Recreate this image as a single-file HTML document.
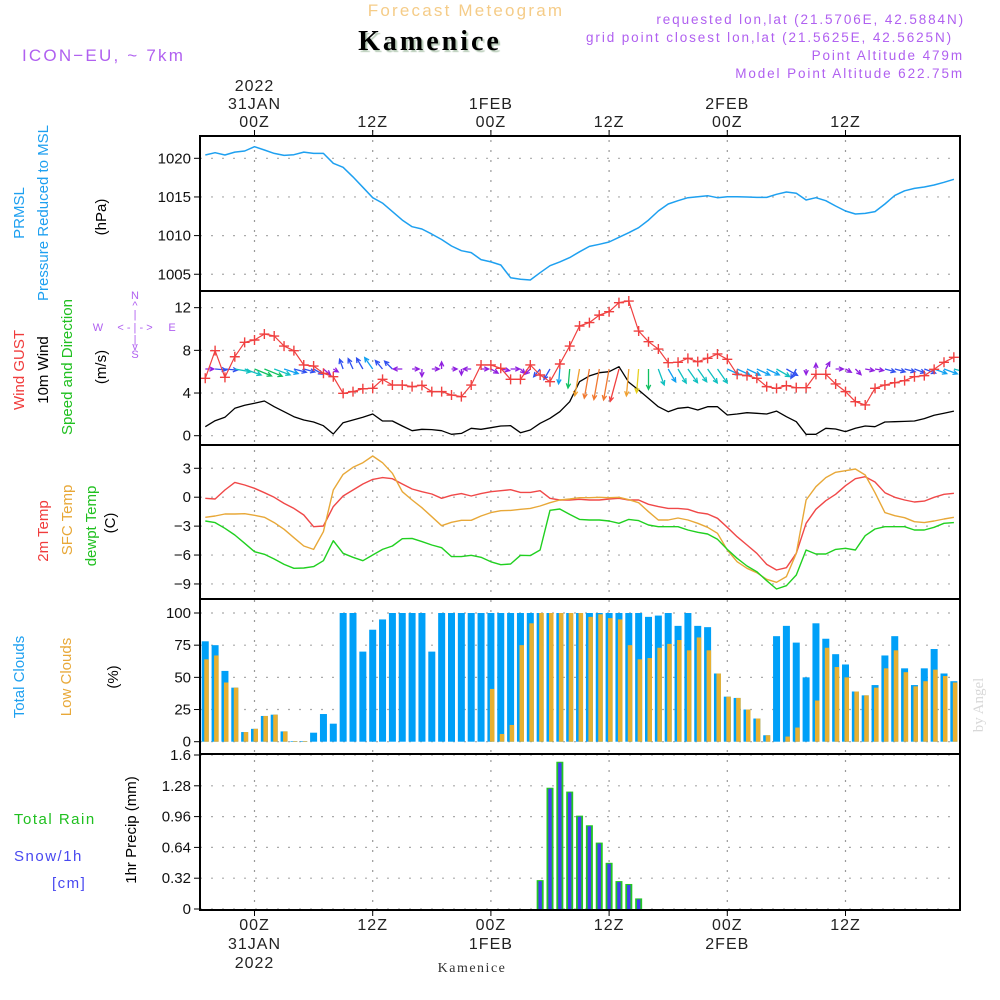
<!DOCTYPE html>
<html><head><meta charset="utf-8"><style>
html,body{margin:0;padding:0;background:#fff;}
svg{display:block;font-family:"Liberation Sans",sans-serif;}
</style></head><body>
<svg id="chart" width="1000" height="1000" viewBox="0 0 1000 1000" xmlns="http://www.w3.org/2000/svg">
<defs>
<clipPath id="plotclip"><rect x="200" y="130" width="760" height="785"/></clipPath>
</defs>
<text x="466" y="16" text-anchor="middle" font-size="17" fill="#f5cc88" letter-spacing="2.2">Forecast Meteogram</text>
<text x="430" y="50" text-anchor="middle" font-family="Liberation Serif,serif" font-weight="bold" font-size="28" fill="#000" letter-spacing="3" style="text-shadow:2px 2px 1px #b9cdb9">Kamenice</text>
<text x="22" y="61" font-size="17" fill="#b060f0" letter-spacing="2.2">ICON−EU, ~ 7km</text>
<g font-size="13.5" fill="#b060f0" letter-spacing="1.9" text-anchor="end">
<text x="965" y="24">requested lon,lat (21.5706E, 42.5884N)</text>
<text x="953" y="42">grid point closest lon,lat (21.5625E, 42.5625N)</text>
<text x="964" y="60">Point Altitude 479m</text>
<text x="964" y="78">Model Point Altitude 622.75m</text>
</g>
<g font-size="15">
<text transform="translate(24,213) rotate(-90)" text-anchor="middle" fill="#1ea0f0">PRMSL</text>
<text transform="translate(48,213) rotate(-90)" text-anchor="middle" fill="#1ea0f0">Pressure Reduced to MSL</text>
<text transform="translate(106,217) rotate(-90)" text-anchor="middle" fill="#000">(hPa)</text>
</g>
<g font-size="15">
<text transform="translate(24,370) rotate(-90)" text-anchor="middle" fill="#f03c3c">Wind GUST</text>
<text transform="translate(48,370) rotate(-90)" text-anchor="middle" fill="#000">10m Wind</text>
<text transform="translate(72,367) rotate(-90)" text-anchor="middle" fill="#20c020">Speed and Direction</text>
<text transform="translate(106,367) rotate(-90)" text-anchor="middle" fill="#000">(m/s)</text>
</g>
<g font-size="11" fill="#b060f0" text-anchor="middle">
<text x="135" y="299">N</text>
<text x="135" y="309">^</text>
<text x="135" y="318">|</text>
<text x="98" y="331">W</text>
<text x="135" y="331">&lt; - | - &gt;</text>
<text x="172" y="331">E</text>
<text x="135" y="343">|</text>
<text x="135" y="350">v</text>
<text x="135" y="358">S</text>
</g>
<g font-size="15">
<text transform="translate(48,531) rotate(-90)" text-anchor="middle" fill="#f03c3c">2m Temp</text>
<text transform="translate(72,520) rotate(-90)" text-anchor="middle" fill="#e8a838">SFC Temp</text>
<text transform="translate(96,526) rotate(-90)" text-anchor="middle" fill="#20c020">dewpt Temp</text>
<text transform="translate(115,523) rotate(-90)" text-anchor="middle" fill="#000">(C)</text>
</g>
<g font-size="15">
<text transform="translate(24,677) rotate(-90)" text-anchor="middle" fill="#1ea0f0">Total Clouds</text>
<text transform="translate(71,677) rotate(-90)" text-anchor="middle" fill="#e8a838">Low Clouds</text>
<text transform="translate(118,677) rotate(-90)" text-anchor="middle" fill="#000">(%)</text>
</g>
<g font-size="15" letter-spacing="1.5">
<text x="14" y="824" fill="#20c020">Total  Rain</text>
<text x="14" y="861" fill="#4848f0">Snow/1h</text>
<text x="52" y="888" fill="#4848f0">[cm]</text>
<text transform="translate(136,830) rotate(-90)" text-anchor="middle" fill="#000" letter-spacing="0">1hr Precip (mm)</text>
</g>
<text transform="translate(983,705) rotate(-90)" text-anchor="middle" font-family="Liberation Serif,serif" font-size="15" fill="#d8d8d8">by Angel</text>
<text x="472" y="972" text-anchor="middle" font-family="Liberation Serif,serif" font-size="14" fill="#333" letter-spacing="1.5">Kamenice</text>
<g id="grid"></g>
<g id="marks" clip-path="url(#plotclip)"></g>
<g id="frames"></g>
<g id="axes"></g>
</svg>
<script>
const hourStart = -5;
const pressure = [1020.43,1020.72,1020.43,1020.8,1020.94,1021.5,1021.07,1020.64,1020.38,1020.47,1020.8,1020.64,1020.64,1019.35,1018.84,1017.6,1016.25,1014.9,1014.2,1013.1,1012.0,1011.15,1010.85,1010.2,1009.5,1008.65,1008.05,1007.8,1006.9,1006.6,1006.2,1004.55,1004.35,1004.26,1005.2,1006.1,1006.6,1007.15,1007.9,1008.6,1008.87,1009.17,1009.78,1010.38,1011.02,1012.0,1013.18,1014.09,1014.52,1014.9,1015.03,1015.16,1014.9,1015.03,1015.03,1014.99,1014.94,1014.94,1015.34,1015.64,1015.47,1014.6,1014.9,1014.52,1013.83,1013.18,1012.79,1012.87,1013.1,1014.09,1015.2,1015.8,1016.1,1016.29,1016.55,1016.9,1017.28];
const windSpeed = [0.84,1.41,1.72,2.57,2.85,3.04,3.25,2.72,2.25,1.78,1.47,1.28,0.94,0.16,1.22,1.47,1.72,2.03,1.38,1.38,0.91,0.47,0.6,0.57,0.47,0.13,0.22,0.69,0.6,0.75,0.91,0.94,0.28,0.53,1.16,1.63,2.25,3.19,5.06,5.6,5.9,6.0,6.47,5.0,4.28,3.5,2.72,2.25,2.57,2.66,2.41,2.72,2.72,1.94,2.03,2.16,2.1,2.03,2.31,1.78,1.31,0.13,0.13,0.69,0.63,0.38,0.69,0.91,0.84,1.28,1.31,1.34,1.38,1.6,1.91,2.1,2.31];
const windGust = [5.38,7.97,5.47,7.4,8.75,8.97,9.53,9.34,8.4,7.97,6.63,6.53,5.85,5.53,3.97,4.13,4.4,4.44,5.28,4.75,4.75,4.6,4.72,4.13,4.13,3.81,3.66,4.75,6.63,6.63,6.32,5.28,5.28,6.63,5.69,5.06,6.72,8.4,10.28,10.6,11.3,11.62,12.47,12.62,9.81,8.81,8.12,6.84,6.88,7.25,6.94,7.25,7.66,7.16,5.75,5.63,5.38,4.6,4.44,4.69,4.5,4.5,5.75,5.75,4.85,4.13,3.19,2.88,4.44,4.75,4.97,5.16,5.53,5.63,6.22,6.88,7.35];
const windDir = [0,5,5,10,20,22,22,20,18,15,15,30,40,30,-110,-115,-120,-125,-130,-135,180,0,90,0,-90,0,90,180,0,30,10,0,45,135,130,120,95,95,100,100,100,100,105,95,95,90,70,60,60,55,55,55,55,25,25,25,25,25,30,30,120,90,-90,-60,0,30,45,10,10,15,15,15,20,20,20,20,15];
const temp2m = [-0.11,-0.19,0.75,1.54,1.27,0.92,0.47,-0.01,-0.64,-1.16,-1.85,-3.06,-2.99,-0.98,0.12,0.75,1.37,1.85,2.03,1.92,1.37,0.85,0.57,0.33,-0.11,0.2,0.37,0.12,0.37,0.57,0.67,0.78,0.5,0.5,0.67,-0.11,-0.29,-0.29,-0.22,-0.29,-0.29,-0.19,-0.11,-0.29,-0.29,-0.74,-0.98,-1.16,-1.16,-1.26,-1.6,-1.74,-2.19,-3.12,-4.1,-4.96,-5.82,-6.97,-7.55,-7.31,-5.82,-2.71,-1.26,-0.36,0.3,1.19,1.92,2.13,1.58,0.47,-0.01,-0.29,-0.5,-0.4,-0.01,0.3,0.4];
const tempSfc = [-2.09,-1.95,-1.74,-1.74,-1.71,-1.88,-2.09,-2.64,-3.33,-4.2,-5.06,-5.41,-3.58,0.75,2.37,3.1,3.58,4.27,3.58,2.48,0.57,-0.29,-1.09,-2.02,-2.96,-2.6,-2.4,-2.4,-1.95,-1.6,-1.4,-1.37,-1.26,-1.16,-0.91,-0.57,-0.29,-0.19,-0.05,-0.05,-0.01,-0.05,-0.01,-0.26,-0.57,-1.5,-2.36,-2.36,-2.16,-2.36,-2.71,-3.12,-3.74,-5.48,-6.69,-7.38,-7.83,-8.52,-8.83,-8.24,-5.82,-0.29,1.09,2.03,2.58,2.75,2.93,2.3,0.47,-1.6,-1.92,-2.13,-2.54,-2.64,-2.47,-2.26,-2.09];
const dewpoint = [-2.47,-2.64,-3.23,-3.92,-4.78,-5.65,-5.92,-6.41,-6.97,-7.38,-7.34,-7.2,-6.59,-4.51,-5.82,-6.23,-6.59,-6.0,-5.41,-5.06,-4.3,-4.27,-4.61,-4.96,-5.24,-6.16,-6.16,-6.03,-6.23,-6.7,-7.0,-6.93,-6.03,-6.06,-5.48,-1.36,-1.22,-1.78,-2.3,-2.36,-2.36,-2.47,-2.71,-2.3,-2.43,-2.88,-3.06,-3.06,-3.06,-3.4,-3.64,-3.82,-4.37,-5.41,-6.34,-7.14,-7.73,-8.66,-9.52,-9.18,-8.07,-5.48,-5.89,-5.89,-5.41,-5.3,-5.48,-3.99,-3.3,-3.06,-3.06,-3.06,-3.4,-3.4,-3.12,-2.71,-2.64];
const totalCloud = [78,75,55,42,7.5,10,20,21,8,0.5,0.5,7,21.5,14,100,100,70,87,95,100,100,100,100,70,100,100,100,100,100,100,100,100,100,100,100,100,100,100,100,100,100,100,100,100,100,97,98,100,90,100,90,89,53,35,34,25,18,5,82,90,77,50,92,80,68,60,39,36,44,67,82,57,44,57,72,53,47];
const lowCloud = [64,67,46,42,7.5,10,20,21,8,0.5,0.5,0,0,0,0,0,0,0,0,0,0,0,0,0,0,0,0,0,0,41,6,13,75,92,100,100,100,100,100,97,99,96,95,75,64,65,73,76,79,71,81,71,53,35,34,25,18,5,0,4,11,0,32,73,58,50,39,36,42,57,71,54,43,47,56,51,46];
const precipHours = [29,30,31,32,33,34,35,36,37,38,39];
const precipValues = [0.30,1.26,1.53,1.22,0.97,0.87,0.69,0.48,0.29,0.26,0.11];
const pressureTicks = [1005,1010,1015,1020];
const windTicks = [0,4,8,12];
const tempTicks = [-9,-6,-3,0,3];
const cloudTicks = [0,25,50,75,100];
const precipTicks = [0,0.32,0.64,0.96,1.28,1.6];
const precipTickLabels = ["0","0.32","0.64","0.96","1.28","1.6"];
const timeTickHours = [0,12,24,36,48,60];
const timeTickLabels = ["00Z","12Z","00Z","12Z","00Z","12Z"];
const dateLabels = ["31JAN","","1FEB","","2FEB",""];

const X = h => 254.5 + 9.85*h;
const Yp = v => 158.3 + (1020 - v)*7.73;
const Yw = v => 435.7 - v*10.67;
const Yt = v => 497.2 - v*9.64;
const Yc = v => 741.7 - v*1.287;
const Yr = v => 909 - v*96.25;
const L = 200, R = 960;
const panels = [[136,291],[291,445],[445,599],[599,754],[754,910]];
const NS = "http://www.w3.org/2000/svg";
const grid = document.getElementById('grid'), marks = document.getElementById('marks'),
      frames = document.getElementById('frames'), axes = document.getElementById('axes');
function mk(tag, attrs, parent){const e=document.createElementNS(NS,tag);for(const k in attrs)e.setAttribute(k,attrs[k]);parent.appendChild(e);return e;}
const hr = i => hourStart + i;

timeTickHours.forEach(h=>{
  const l = mk('line',{x1:X(h),x2:X(h),y1:130,y2:916,stroke:'#999','stroke-width':1.2,'stroke-dasharray':'2,8'},grid);
  
  
});
function hgrid(ticks, Y, name){
  ticks.forEach(t=>{
    const y = Y(t);
    const l = mk('line',{x1:L,x2:R,y1:y,y2:y,stroke:'#aaa','stroke-width':1.2,'stroke-dasharray':'2,9'},grid);
    
    
  });
}
hgrid(pressureTicks,Yp,'pressure');hgrid(windTicks,Yw,'wind');hgrid(tempTicks,Yt,'temp');hgrid(cloudTicks,Yc,'cloud');hgrid(precipTicks,Yr,'precip');

function yaxis(ticks, labels, Y, name){
  ticks.forEach((t,i)=>{
    const y = Y(t);
    const tk = mk('line',{x1:194,x2:200,y1:y,y2:y,stroke:'#000','stroke-width':1},axes);
    
    
    const tx = mk('text',{x:191,y:y+5,'text-anchor':'end','font-size':15,fill:'#111'},axes);
    tx.textContent = labels[i];
    
    
  });
}
yaxis(pressureTicks,pressureTicks.map(String),Yp,'pressure');
yaxis(windTicks,windTicks.map(String),Yw,'wind');
yaxis(tempTicks,tempTicks.map(t=>t<0?'−'+(-t):String(t)),Yt,'temp');
yaxis(cloudTicks,cloudTicks.map(String),Yc,'cloud');
yaxis(precipTicks,precipTickLabels,Yr,'precip');

timeTickHours.forEach((h,i)=>{
  const x = X(h);
  [[130,136],[910,916]].forEach(([a,b])=>{
    const tk = mk('line',{x1:x,x2:x,y1:a,y2:b,stroke:'#000','stroke-width':1},axes);
    
    
  });
  const top = mk('text',{x:x,y:127,'text-anchor':'middle','font-size':16,fill:'#222','letter-spacing':1},axes);
  top.textContent = timeTickLabels[i];
  
  
  const bot = mk('text',{x:x,y:930,'text-anchor':'middle','font-size':16,fill:'#222','letter-spacing':1},axes);
  bot.textContent = timeTickLabels[i];
  
  
  if(dateLabels[i]){
    const d1 = mk('text',{x:x,y:109,'text-anchor':'middle','font-size':16,fill:'#222','letter-spacing':1},axes);
    d1.textContent = dateLabels[i];
    
    
    const d2 = mk('text',{x:x,y:949,'text-anchor':'middle','font-size':16,fill:'#222','letter-spacing':1},axes);
    d2.textContent = dateLabels[i];
    
    
  }
});
const y1 = mk('text',{x:X(0),y:91,'text-anchor':'middle','font-size':16,fill:'#222','letter-spacing':1},axes);
y1.textContent='2022';


const y2 = mk('text',{x:X(0),y:968,'text-anchor':'middle','font-size':16,fill:'#222','letter-spacing':1},axes);
y2.textContent='2022';



panels.forEach(([t,b],i)=>{
  const r = mk('rect',{x:L,y:t,width:R-L,height:b-t,fill:'none',stroke:'#000','stroke-width':2},frames);
  
  
});

function line(vals, Y, color, w, name){
  const d = vals.map((v,i)=>(i?'L':'M')+X(hr(i)).toFixed(1)+','+Y(v).toFixed(1)).join('');
  const p = mk('path',{d:d,fill:'none',stroke:color,'stroke-width':w,'stroke-linejoin':'round'},marks);
  
  
}

totalCloud.forEach((v,i)=>{
  const x = X(hr(i));
  const r = mk('rect',{x:x-3.5,y:Yc(v),width:7,height:Yc(0)-Yc(v),fill:'#00a0f8'},marks);
  
  
});
lowCloud.forEach((v,i)=>{
  const x = X(hr(i));
  const r = mk('rect',{x:x-1,y:Yc(v),width:4.5,height:Yc(0)-Yc(v),fill:'#e8b030'},marks);
  
  
});

precipValues.forEach((v,i)=>{
  const x = X(precipHours[i]);
  const g = mk('rect',{x:x-3.5,y:Yr(v),width:7,height:Yr(0)-Yr(v),fill:'#22c822'},marks);
  
  
  const b = mk('rect',{x:x-1.7,y:Yr(v)+1,width:3.4,height:Yr(0)-Yr(v)-1,fill:'#4040f0'},marks);
  
  
});

line(pressure,Yp,'#1ea0f0',1.5,'pressure-line');
line(windSpeed,Yw,'#000',1.3,'wind-speed-line');
line(temp2m,Yt,'#f04848',1.4,'temp-2m-line');
line(tempSfc,Yt,'#e8a838',1.4,'temp-sfc-line');
line(dewpoint,Yt,'#20d020',1.4,'dewpoint-line');

function arrowColor(s){
  if(s<1) return '#9020e0';
  if(s<1.9) return '#3050f0';
  if(s<2.3) return '#10a0f0';
  if(s<3.0) return '#10c0c0';
  if(s<3.8) return '#10c060';
  if(s<4.5) return '#e8d020';
  if(s<5.5) return '#f0a030';
  if(s<6.2) return '#f07830';
  return '#f04040';
}
windDir.forEach((a,i)=>{
  const s = windSpeed[i];
  const x0 = X(hr(i)), y0 = 369;
  const len = 5 + 4.4*s;
  const rad = a*Math.PI/180;
  const x1 = x0 + len*Math.cos(rad), y1 = y0 + len*Math.sin(rad);
  const c = arrowColor(s);
  const h1 = rad + Math.PI - 0.45, h2 = rad + Math.PI + 0.45;
  const d = `M${x0.toFixed(1)},${y0}L${x1.toFixed(1)},${y1.toFixed(1)}M${(x1+5*Math.cos(h1)).toFixed(1)},${(y1+5*Math.sin(h1)).toFixed(1)}L${x1.toFixed(1)},${y1.toFixed(1)}L${(x1+5*Math.cos(h2)).toFixed(1)},${(y1+5*Math.sin(h2)).toFixed(1)}`;
  const p = mk('path',{d:d,fill:'none',stroke:c,'stroke-width':1.3},marks);
  
  
});

line(windGust,Yw,'#f04040',1.2,'wind-gust-line');
windGust.forEach((v,i)=>{
  const x = X(hr(i)), y = Yw(v);
  const p = mk('path',{d:`M${x-5},${y}H${x+5}M${x},${y-5}V${y+5}`,stroke:'#f04040','stroke-width':1.4},marks);
  
  
});
</script>
</body></html>
